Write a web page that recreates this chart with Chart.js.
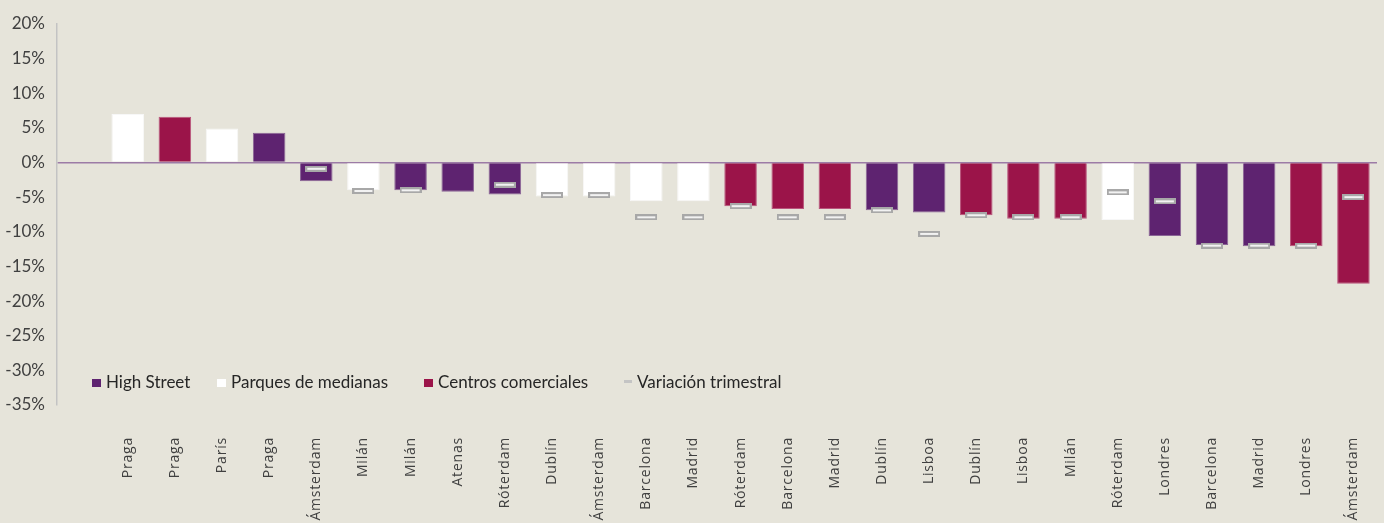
<!DOCTYPE html>
<html>
<head>
<meta charset="utf-8">
<script src="https://cdn.jsdelivr.net/npm/chart.js@4/dist/chart.umd.min.js"></script>
<style>
  body { margin: 0; background: #E6E4DA; }
  #wrap { position: relative; width: 1384px; height: 523px; overflow: hidden; }
  .legend { position: absolute; top: 372px; left: 0; font-family: Lato, sans-serif; font-size: 17px; color: #262626; }
  .legend span.item { position: absolute; white-space: nowrap; line-height: 20px; }
  .legend i { display: inline-block; width: 9px; height: 8px; margin-right: 5px; vertical-align: 1px; }
  .legend i.dash { width: 8px; height: 3px; background: #C4C4C4; vertical-align: 5px; }
</style>
</head>
<body>
<div id="wrap">
  <canvas id="chart"></canvas>
  <div class="legend">
    <span class="item" style="left:92px"><i style="background:#5E2370"></i>High Street</span>
    <span class="item" style="left:217px"><i style="background:#FFFFFF"></i>Parques de medianas</span>
    <span class="item" style="left:424px"><i style="background:#9B1449"></i>Centros comerciales</span>
    <span class="item" style="left:624px"><i class="dash"></i>Variación trimestral</span>
  </div>
</div>
<script>
// DATA
const cities = ['', 'Praga', 'Praga', 'París', 'Praga', 'Ámsterdam', 'Milán', 'Milán', 'Atenas', 'Róterdam',
    'Dublín', 'Ámsterdam', 'Barcelona', 'Madrid', 'Róterdam', 'Barcelona', 'Madrid', 'Dublín', 'Lisboa',
    'Dublín', 'Lisboa', 'Milán', 'Róterdam', 'Londres', 'Barcelona', 'Madrid', 'Londres', 'Ámsterdam'];

const highStreet = [null, null, null, null, 4.3, -2.7, null, -4.0, -4.2, -4.6,
    null, null, null, null, null, null, null, -6.9, -7.2,
    null, null, null, null, -10.6, -11.9, -12.1, null, null];

const parques = [null, 7.0, null, 4.9, null, null, -4.0, null, null, null,
    -4.9, -4.9, -5.6, -5.6, null, null, null, null, null,
    null, null, null, -8.3, null, null, null, null, null];

const centros = [null, null, 6.6, null, null, null, null, null, null, null,
    null, null, null, null, -6.3, -6.7, -6.7, null, null,
    -7.6, -8.1, -8.1, null, null, null, null, -12.1, -17.5];

const variacion = [null, null, null, null, null, -0.9, -4.1, -4.0, null, -3.2,
    -4.7, -4.7, -7.9, -7.9, -6.3, -7.9, -7.9, -6.9, -10.3,
    -7.6, -7.9, -7.9, -4.3, -5.6, -12.0, -12.0, -12.0, -5.0];

const yTicks = [20, 15, 10, 5, 0, -5, -10, -15, -20, -25, -30, -35];

// marker for quarterly change
function makeMarker() {
    const c = document.createElement('canvas');
    c.width = 22;
    c.height = 6;
    const g = c.getContext('2d');
    g.fillStyle = '#A8A8A8';
    g.fillRect(0, 0, 22, 6);
    g.fillStyle = '#F2F2F2';
    g.fillRect(2, 2, 18, 2);
    return c;
}

// letter spaced x labels
const spacedLabels = {
    id: 'spacedLabels',
    beforeDraw(chart) {
        const s = chart.scales.x;
        if (s._spaced) return;
        const orig = s.drawLabels;
        s.drawLabels = function (area) {
            this.ctx.save();
            this.ctx.letterSpacing = '0.8px';
            orig.call(this, area);
            this.ctx.restore();
        };
        s._spaced = true;
    }
};

function barSet(label, data, color, border) {
    return {
        type: 'bar',
        label: label,
        data: data,
        backgroundColor: color,
        borderColor: border,
        borderWidth: 1,
        grouped: false,
        barPercentage: 0.69,
        categoryPercentage: 1,
        order: 2
    };
}

const ctx = document.getElementById('chart').getContext('2d');
const chart = new Chart(ctx, {
    data: {
        labels: cities,
        datasets: [
            barSet('High Street', highStreet, '#5E2370', '#8A6596'),
            barSet('Parques de medianas', parques, '#FFFFFF', '#F7F7F7'),
            barSet('Centros comerciales', centros, '#9B1449', '#B9557C'),
            {
                type: 'line',
                label: 'Variación trimestral',
                data: variacion,
                showLine: false,
                pointStyle: makeMarker(),
                pointRadius: 6,
                order: 1
            }
        ]
    },
    options: {
        responsive: true,
        maintainAspectRatio: false,
        animation: false,
        layout: { padding: { top: 24, right: 5, left: 0, bottom: 0 } },
        plugins: {
            legend: { display: false },
            tooltip: { enabled: false }
        },
        scales: {
            x: {
                grid: { display: false },
                border: { display: false },
                ticks: {
                    autoSkip: false,
                    maxRotation: 90,
                    minRotation: 90,
                    padding: 24,
                    color: '#404040',
                    font: { family: 'Open Sans', size: 14 }
                },
                afterFit: (scale) => {
                    scale.height = 118;
                    scale.paddingLeft = 0;
                    scale.paddingRight = 0;
                }
            },
            y: {
                min: -35,
                max: 20,
                afterBuildTicks: (scale) => { scale.ticks = yTicks.map(v => ({ value: v })); },
                ticks: {
                    padding: 12,
                    color: '#404040',
                    font: { family: 'Lato', size: 17 },
                    callback: (v) => v + '%'
                },
                grid: {
                    drawTicks: false,
                    lineWidth: 1.5,
                    color: (c) => c.tick && c.tick.value === 0 ? '#9C7BA6' : 'transparent'
                },
                border: { display: true, color: '#C3C3C3', width: 1.5 },
                afterFit: (scale) => { scale.width = 57; }
            }
        }
    },
    plugins: [spacedLabels]
});
</script>
</body>
</html>
